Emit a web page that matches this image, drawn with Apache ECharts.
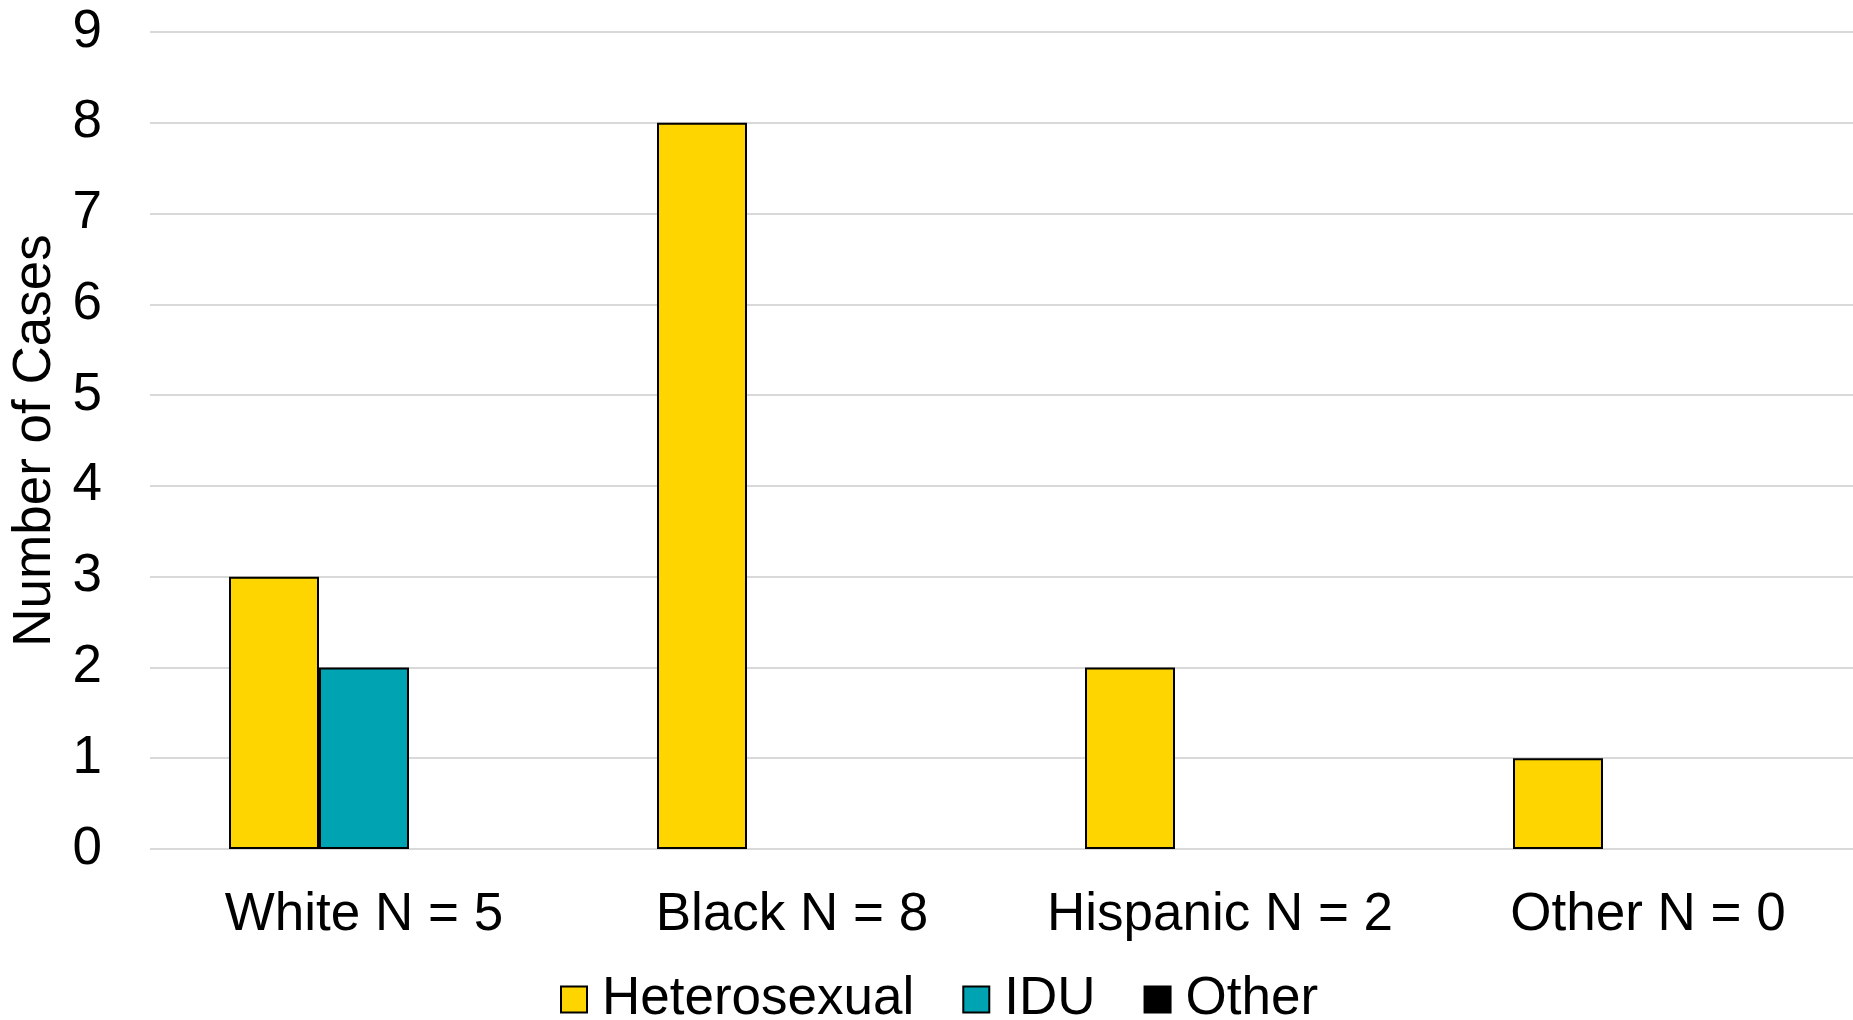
<!DOCTYPE html>
<html>
<head>
<meta charset="utf-8">
<script src="https://cdn.jsdelivr.net/npm/echarts@6/dist/echarts.min.js"></script>
<style>
html,body{margin:0;padding:0;background:#fff;overflow:hidden;width:1853px;height:1020px;}
#chart{width:1862px;height:1020px;}
</style>
</head>
<body>
<div id="chart"></div>
<script>
const categories = ['White N = 5', 'Black N = 8', 'Hispanic N = 2', 'Other N = 0'];
const seriesNames = ['Heterosexual', 'IDU', 'Other'];
const heterosexual = [3, 8, 2, 1];
const idu = [2, 0, 0, 0];
const other = [0, 0, 0, 0];
const colors = ['#FFD500', '#00A3B1', '#000000'];

const FONT = '"Liberation Sans", Arial, sans-serif';
const FS = 53;

function toData(arr) {
  return arr.map(v => v === 0 ? { value: v, itemStyle: { borderWidth: 0, opacity: 0 } } : v);
}

const chart = echarts.init(document.getElementById('chart'), null, { renderer: 'canvas' });
chart.setOption({
  animation: false,
  backgroundColor: '#ffffff',
  textStyle: { fontFamily: FONT },
  grid: { left: 150, right: 0, top: 32, bottom: 171, containLabel: false },
  legend: {
    data: seriesNames,
    top: 968,
    left: 555,
    itemWidth: 26,
    itemHeight: 26,
    itemGap: 48,
    textStyle: { fontFamily: FONT, fontSize: FS, color: '#000', padding: [0, 0, 0, 10] },
    icon: 'rect'
  },
  xAxis: {
    type: 'category',
    data: categories,
    axisLine: { show: false },
    axisTick: { show: false },
    axisLabel: { fontFamily: FONT, fontSize: FS, color: '#000', margin: 40, interval: 0 }
  },
  yAxis: {
    type: 'value',
    min: 0,
    max: 9,
    interval: 1,
    name: 'Number of Cases',
    nameLocation: 'middle',
    nameGap: 82,
    nameRotate: 90,
    nameTextStyle: { fontFamily: FONT, fontSize: FS, color: '#000' },
    axisLine: { show: false },
    axisTick: { show: false },
    axisLabel: { fontFamily: FONT, fontSize: FS, color: '#000', margin: 48 },
    splitLine: { show: true, lineStyle: { color: '#d9d9d9', width: 2 } }
  },
  series: [
    { name: seriesNames[0], type: 'bar', data: toData(heterosexual), barWidth: 90, barGap: '0%',
      itemStyle: { color: colors[0], borderColor: '#000', borderWidth: 2 } },
    { name: seriesNames[1], type: 'bar', data: toData(idu), barWidth: 90, barGap: '0%',
      itemStyle: { color: colors[1], borderColor: '#000', borderWidth: 2 } },
    { name: seriesNames[2], type: 'bar', data: toData(other), barWidth: 90, barGap: '0%',
      itemStyle: { color: colors[2], borderColor: '#000', borderWidth: 2 } }
  ]
});
</script>
</body>
</html>
